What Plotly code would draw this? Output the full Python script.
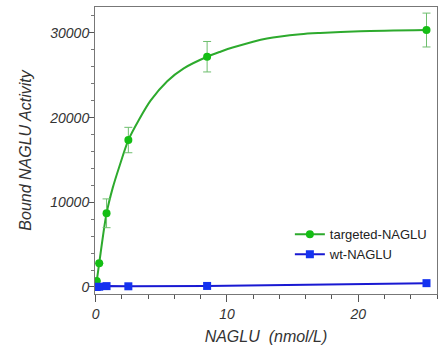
import plotly.graph_objects as go

# Data
targ_x = [0.08, 0.27, 0.83, 2.49, 8.49, 25.2]
targ_y = [700, 2800, 8700, 17350, 27190, 30340]
targ_err = [0, 0, 1700, 1500, 1800, 2000]

# fitted curve, sampled by eye from the reference
curve_x = [0, 0.08, 0.27, 0.83, 1.3, 1.8, 2.49, 3.3, 4.18, 5.45, 6.71, 8.49, 9.5, 10.5, 13.05, 15.6, 17.1, 20.15, 25.2]
curve_y = [0, 700, 2800, 8700, 11700, 14200, 17350, 19750, 22000, 24300, 25820, 27190, 27780, 28300, 29350, 29850, 30000, 30200, 30340]

wt_x = [0.08, 0.27, 0.83, 2.49, 8.49, 25.2]
wt_y = [0, 30, 100, 80, 120, 450]

GREEN_LINE = "rgb(45,170,45)"
GREEN_MARK = "rgb(20,190,20)"
GREEN_ERR = "rgb(110,190,110)"
BLUE = "rgb(25,25,210)"
BLUE_MARK = "rgb(20,50,240)"

FONT = "Liberation Sans, Arial, sans-serif"

fig = go.Figure()

fig.add_trace(go.Scatter(x=curve_x, y=curve_y, mode="lines",
                         line=dict(color=GREEN_LINE, width=2, shape="spline", smoothing=0.8),
                         showlegend=False, hoverinfo="skip"))
fig.add_trace(go.Scatter(x=targ_x, y=targ_y, mode="markers",
                         marker=dict(color=GREEN_MARK, size=8, symbol="circle"),
                         error_y=dict(type="data", array=targ_err, visible=True, color=GREEN_ERR, thickness=1, width=4),
                         showlegend=False))
fig.add_trace(go.Scatter(x=wt_x, y=wt_y, mode="lines+markers", name="wt-NAGLU",
                         line=dict(color=BLUE, width=2),
                         marker=dict(color=BLUE_MARK, size=8, symbol="square"), showlegend=False))
# legend entries
fig.add_trace(go.Scatter(x=[None], y=[None], mode="lines+markers", name="targeted-NAGLU",
                         line=dict(color=GREEN_LINE, width=2), marker=dict(color=GREEN_MARK, size=8, symbol="circle")))
fig.add_trace(go.Scatter(x=[None], y=[None], mode="lines+markers", name="wt-NAGLU",
                         line=dict(color=BLUE, width=2), marker=dict(color=BLUE_MARK, size=8, symbol="square")))

fig.update_layout(
    width=445, height=347,
    margin=dict(l=95, r=8, t=7, b=53, autoexpand=False),
    paper_bgcolor="white", plot_bgcolor="white",
    font=dict(family=FONT, color="#333"),
    legend=dict(x=0.985, y=0.26, xanchor="right", yanchor="top", bgcolor="rgba(0,0,0,0)",
                font=dict(size=13, color="#222"), tracegroupgap=0, itemwidth=30),
    xaxis=dict(range=[-0.05, 26.0], tickvals=[0, 10, 20], ticks="outside", ticklen=7, tickcolor="#555",
               showgrid=False, zeroline=False, showline=True, linecolor="#777", linewidth=1, mirror=True,
               automargin=False,
               tickfont=dict(size=14, family=FONT, color="#333", style="italic"),
               minor=dict(dtick=2, ticks="outside", ticklen=4, tickcolor="#555"),
               title=dict(text="NAGLU  (nmol/L)", font=dict(size=16, style="italic", color="#333"), standoff=10)),
    yaxis=dict(range=[-830, 33060], tickvals=[0, 10000, 20000, 30000], tickformat="d", ticks="outside", ticklen=5,
               tickcolor="#555", showgrid=False, zeroline=False, showline=True, linecolor="#777", linewidth=1,
               mirror=True, automargin=False, ticklabelstandoff=-3,
               tickfont=dict(size=14, family=FONT, color="#333", style="italic"),
               minor=dict(dtick=2000, ticks="outside", ticklen=3, tickcolor="#777"),
               title=dict(text="Bound NAGLU Activity", font=dict(size=16, style="italic", color="#333"), standoff=13)),
)

fig.write_html("out.html", config={"displayModeBar": False},
               post_script="document.body.style.margin='0';")
